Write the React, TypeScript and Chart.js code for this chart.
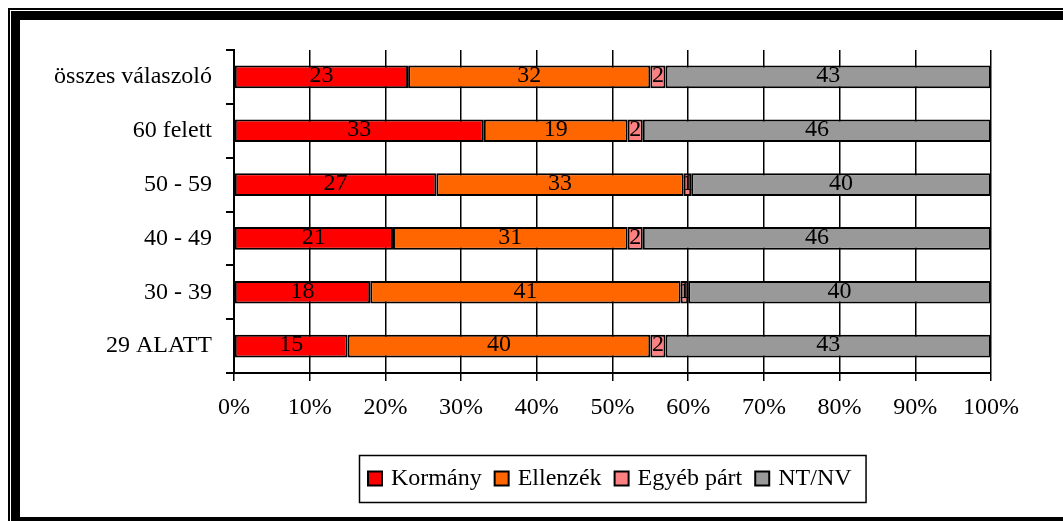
import React, { useEffect, useRef } from "react";
import { Chart, registerables } from "chart.js";

Chart.register(...registerables);

// ---- data ----
const categories = ["összes válaszoló", "60 felett", "50 - 59", "40 - 49", "30 - 39", "29 ALATT"];
const seriesNames = ["Kormány", "Ellenzék", "Egyéb párt", "NT/NV"];
const kormany = [23, 33, 27, 21, 18, 15];
const ellenzek = [32, 19, 33, 31, 41, 40];
const egyebPart = [2, 2, 1, 2, 1, 2];
const ntnv = [43, 46, 40, 46, 40, 43];
const seriesColors = ["#FF0000", "#FF6600", "#FF8080", "#999999"];
const xTickStep = 10;
const xMin = 0;
const xMax = 100;

const FONT = '"Liberation Serif", "Times New Roman", serif';
const W = 1063;
const H = 521;

const rawSeries = [kormany, ellenzek, egyebPart, ntnv];
const totals = categories.map((_, i) => rawSeries.reduce((s, arr) => s + arr[i], 0));

const framePlugin = {
  id: "frame",
  beforeDraw(chart: any) {
    const ctx = chart.ctx;
    ctx.save();
    ctx.fillStyle = "#ffffff";
    ctx.fillRect(0, 0, W, H);
    ctx.fillStyle = "#000000";
    // thin outer line
    ctx.fillRect(8, 8, W - 8, 2);
    ctx.fillRect(8, 8, 2, H - 8);
    // thick inner line
    ctx.fillRect(11, 11, W - 11, 9);
    ctx.fillRect(11, 11, 9, H - 11);
    // bottom thick strip
    ctx.fillRect(11, 517, W - 11, 4);
    ctx.restore();
  },
};

const valueLabelPlugin = {
  id: "valueLabels",
  afterDatasetsDraw(chart: any) {
    const ctx = chart.ctx;
    ctx.save();
    ctx.font = `24px ${FONT}`;
    ctx.fillStyle = "#000000";
    ctx.textAlign = "center";
    ctx.textBaseline = "middle";
    chart.data.datasets.forEach((ds: any, di: number) => {
      const meta = chart.getDatasetMeta(di);
      meta.data.forEach((bar: any, i: number) => {
        const raw = ds.rawValues[i];
        const cx = (bar.x + bar.base) / 2;
        ctx.fillText(String(raw), cx, bar.y - 1);
      });
    });
    ctx.restore();
  },
};

const legendPlugin = {
  id: "boxLegend",
  afterDraw(chart: any) {
    const ctx = chart.ctx;
    const area = chart.chartArea;
    ctx.save();
    ctx.font = `24px ${FONT}`;
    const sq = 14;
    const sqGap = 9;
    const itemGap = 13;
    const padL = 9;
    const padR = 14;
    const widths = chart.data.datasets.map((ds: any) => ctx.measureText(ds.label).width);
    let total = padL + padR;
    widths.forEach((w: number, i: number) => {
      total += sq + sqGap + w + (i < widths.length - 1 ? itemGap : 0);
    });
    const cx = (area.left + area.right) / 2;
    const left = Math.round(cx - total / 2);
    const top = 455;
    const bottom = 502;
    ctx.strokeStyle = "#000000";
    ctx.lineWidth = 1.5;
    ctx.strokeRect(left + 0.5, top + 0.5, total, bottom - top);
    let x = left + padL;
    const cy = 478.5;
    chart.data.datasets.forEach((ds: any, i: number) => {
      ctx.fillStyle = ds.backgroundColor;
      ctx.fillRect(x, cy - sq / 2, sq, sq);
      ctx.lineWidth = 2;
      ctx.strokeStyle = "#000000";
      ctx.strokeRect(x, cy - sq / 2, sq, sq);
      x += sq + sqGap;
      ctx.fillStyle = "#000000";
      ctx.textAlign = "left";
      ctx.textBaseline = "middle";
      ctx.fillText(ds.label, x, cy);
      x += widths[i] + itemGap;
    });
    ctx.restore();
  },
};

export default function App() {
  const ref = useRef<HTMLCanvasElement | null>(null);

  useEffect(() => {
    document.body.style.margin = "0";
    const canvas = ref.current;
    if (!canvas) return;
    const datasets = rawSeries.map((arr, si) => ({
      label: seriesNames[si],
      data: arr.map((v, i) => (v / totals[i]) * 100),
      rawValues: arr,
      backgroundColor: seriesColors[si],
      borderColor: "#000000",
      borderWidth: 2,
      borderSkipped: false,
      barPercentage: 0.42,
      categoryPercentage: 1,
    }));
    const chart = new Chart(canvas, {
      type: "bar",
      data: { labels: categories, datasets: datasets as any },
      options: {
        indexAxis: "y",
        responsive: false,
        maintainAspectRatio: false,
        devicePixelRatio: 1,
        animation: false,
        layout: { padding: { left: 20, right: 72, top: 50, bottom: 88 } },
        plugins: {
          legend: { display: false },
          tooltip: { enabled: false },
          title: { display: false },
        },
        scales: {
          x: {
            type: "linear",
            stacked: true,
            min: xMin,
            max: xMax,
            afterFit: (s: any) => {
              s.height = 60;
            },
            ticks: {
              stepSize: xTickStep,
              padding: 12,
              color: "#000000",
              font: { family: FONT, size: 24 },
              callback: (v: any) => `${v}%`,
              maxRotation: 0,
            },
            grid: {
              color: "#000000",
              lineWidth: 1.5,
              tickLength: 8,
              drawOnChartArea: true,
            },
            border: { display: true, color: "#000000", width: 2 },
          },
          y: {
            type: "category",
            stacked: true,
            afterFit: (s: any) => {
              s.width = 214;
            },
            ticks: {
              padding: 14,
              color: "#000000",
              font: { family: FONT, size: 24 },
            },
            grid: {
              offset: true,
              color: "#000000",
              lineWidth: 2,
              tickLength: 8,
              drawOnChartArea: false,
            },
            border: { display: true, color: "#000000", width: 2 },
          },
        },
      },
      plugins: [framePlugin, valueLabelPlugin, legendPlugin],
    });
    return () => chart.destroy();
  }, []);

  return <canvas ref={ref} width={W} height={H} style={{ display: "block" }} />;
}
